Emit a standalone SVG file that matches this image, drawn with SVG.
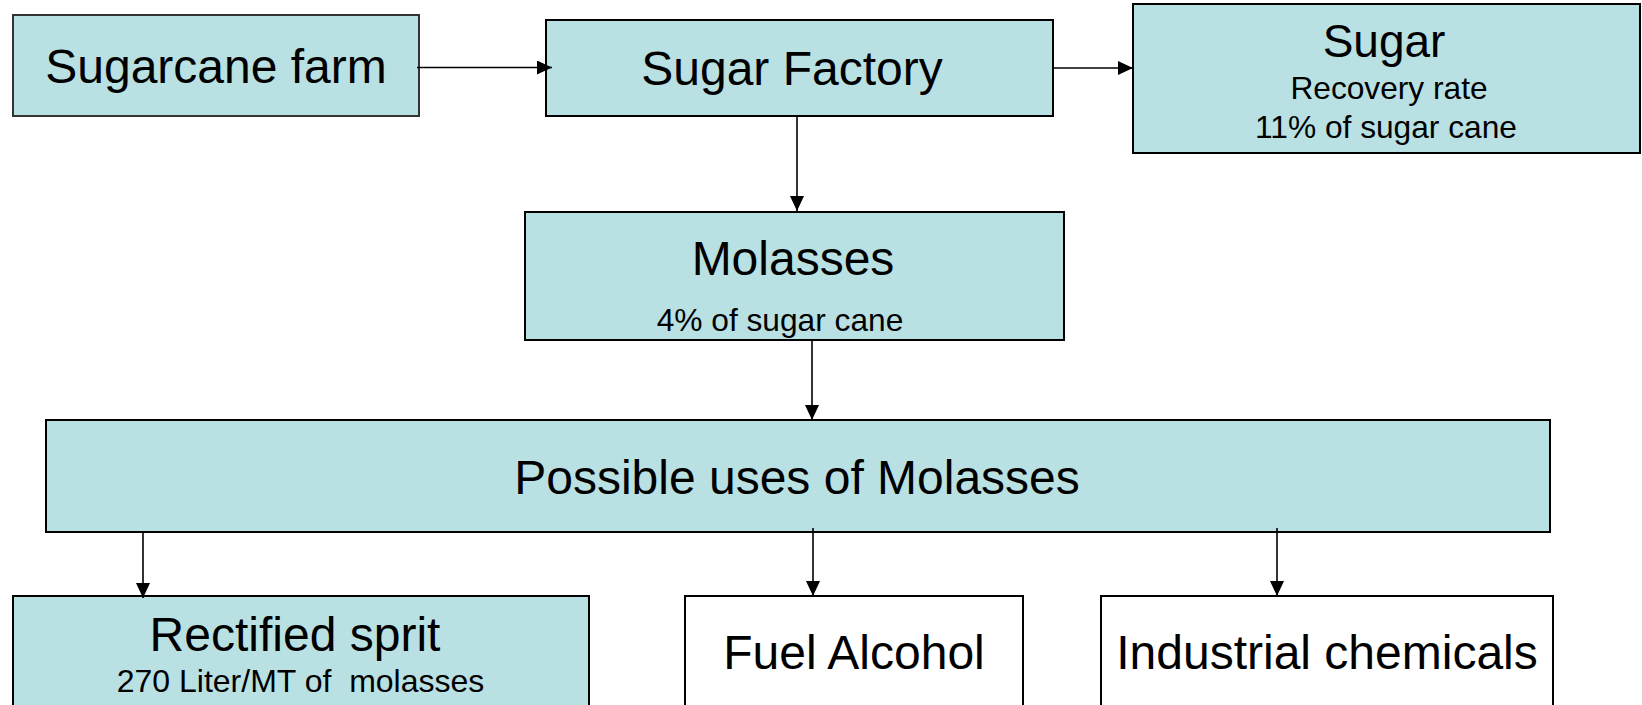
<svg xmlns="http://www.w3.org/2000/svg" width="1642" height="705" viewBox="0 0 1642 705">
<style>
.box{fill:#B9E0E3;stroke:#000;stroke-width:2}
.wbox{fill:#FFFFFF;stroke:#000;stroke-width:2}
.t{font-family:"Liberation Sans",Arial,sans-serif;fill:#000;text-anchor:middle}
.big{font-size:48px}
.small{font-size:31.7px}
.conn{stroke:#000;stroke-width:1.6;fill:none;marker-end:url(#ah)}
</style>
<defs>
<marker id="ah" markerUnits="userSpaceOnUse" markerWidth="16" markerHeight="15" refX="15" refY="7" orient="auto">
<path d="M0,0 L15,7 L0,14 Z" fill="#000"/>
</marker>
</defs>
<rect width="1642" height="705" fill="#FFFFFF"/>
<g id="farm">
<rect class="box" x="13" y="15" width="406" height="101" style="stroke:#333"/>
<text class="t big" x="216" y="83">Sugarcane farm</text>
</g>
<g id="factory">
<rect class="box" x="546" y="20" width="507" height="96"/>
<text class="t big" x="792" y="85">Sugar Factory</text>
</g>
<g id="sugar">
<rect class="box" x="1133" y="4" width="507" height="149"/>
<text class="t" x="1384" y="57" style="font-size:46px">Sugar</text>
<text class="t small" x="1389" y="99">Recovery rate</text>
<text class="t small" x="1386" y="138">11% of sugar cane</text>
</g>
<g id="molasses">
<rect class="box" x="525" y="212" width="539" height="128"/>
<text class="t big" x="793" y="275">Molasses</text>
<text class="t small" x="780" y="331">4% of sugar cane</text>
</g>
<g id="uses">
<rect class="box" x="46" y="420" width="1504" height="112"/>
<text class="t big" x="797" y="494">Possible uses of Molasses</text>
</g>
<g id="rectified">
<rect class="box" x="13" y="596" width="576" height="130"/>
<text class="t big" x="295" y="651">Rectified sprit</text>
<text class="t" x="300.5" y="692" style="white-space:pre;font-size:32px">270 Liter/MT of  molasses</text>
</g>
<g id="fuel">
<rect class="wbox" x="685" y="596" width="338" height="130"/>
<text class="t big" x="854" y="669">Fuel Alcohol</text>
</g>
<g id="industrial">
<rect class="wbox" x="1101" y="596" width="452" height="130"/>
<text class="t big" x="1327" y="669">Industrial chemicals</text>
</g>
<g id="connectors">
<line class="conn" x1="417" y1="67.5" x2="552" y2="67.5"/>
<line class="conn" x1="1053" y1="68" x2="1133" y2="68"/>
<line class="conn" x1="797" y1="116" x2="797" y2="211"/>
<line class="conn" x1="812" y1="340" x2="812" y2="420"/>
<line class="conn" x1="143" y1="532" x2="143" y2="598"/>
<line class="conn" x1="813" y1="528" x2="813" y2="596"/>
<line class="conn" x1="1277" y1="528" x2="1277" y2="596"/>
</g>
</svg>
